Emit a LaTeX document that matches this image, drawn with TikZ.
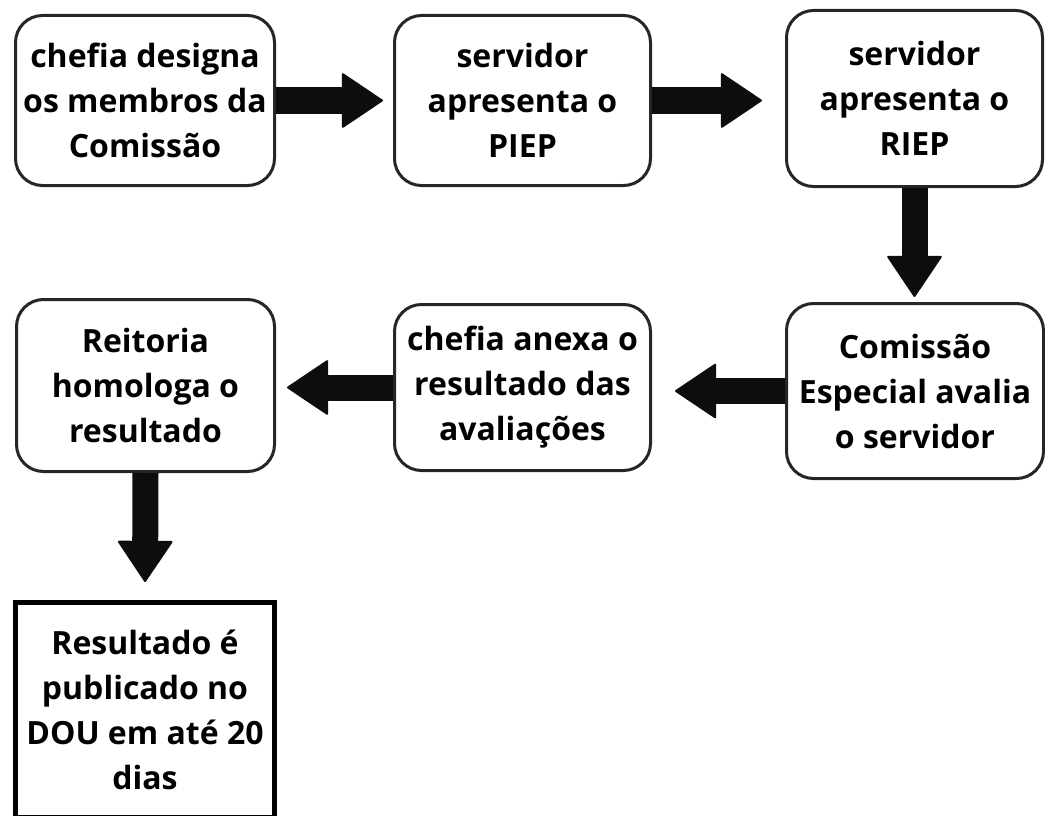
\documentclass[tikz,border=0pt]{standalone}
\usepackage{fontspec}
\setmainfont{Open Sans}
\usetikzlibrary{arrows.meta}

\begin{document}
\begin{tikzpicture}[
        x=1pt, y=-1pt,
        etapa/.style={
            draw=black!85,
            line width=3pt,
            rounded corners=27pt,
            fill=white,
            align=center,
            inner sep=0pt,
            font=\fontsize{32}{45}\selectfont\bfseries
            },
        final/.style={
            etapa,
            draw=black,
            line width=5pt,
            sharp corners
            },
        seta/.style={
            line width=26pt,
            draw=black!95,
            -{Triangle[width=56pt,length=42pt,line width=2pt,round]}
            }
    ]

    \clip (0,0) rectangle (1045,816);

    % etapas
    \node[etapa, minimum width=259pt, minimum height=170pt] (designa) at (145,100.5)
        {chefia designa\\os membros da\\Comissão};
    \node[etapa, minimum width=256pt, minimum height=170pt] (piep) at (522.5,100.5)
        {servidor\\apresenta o\\PIEP};
    \node[etapa, minimum width=256pt, minimum height=176pt] (riep) at (914.5,98.5)
        {servidor\\apresenta o\\RIEP};
    \node[etapa, minimum width=257pt, minimum height=175pt] (avalia) at (915,391)
        {Comissão\\Especial avalia\\o servidor};
    \node[etapa, minimum width=256pt, minimum height=166pt] (anexa) at (522.5,387.5)
        {chefia anexa o\\resultado das\\avaliações};
    \node[etapa, minimum width=258pt, minimum height=172pt] (homologa) at (145.5,385.5)
        {Reitoria\\homologa o\\resultado};
    \node[final, minimum width=259pt, minimum height=215pt] (publica) at (145,710)
        {Resultado é\\publicado no\\DOU em até 20\\dias};

    % setas
    \draw[seta, shorten >=10pt] (designa.east) -- (piep.west);
    \draw[seta, shorten >=23pt] (piep.east) -- (piep.east -| riep.west);
    \draw[seta, shorten >=5pt] (riep.south) -- (riep.south |- avalia.north);
    \draw[seta, shorten >=23pt] (avalia.west) -- (avalia.west -| anexa.east);
    \draw[seta, shorten >=11pt] (anexa.west) -- (anexa.west -| homologa.east);
    \draw[seta, shorten >=18pt] (homologa.south) -- (publica.north);

\end{tikzpicture}
\end{document}
